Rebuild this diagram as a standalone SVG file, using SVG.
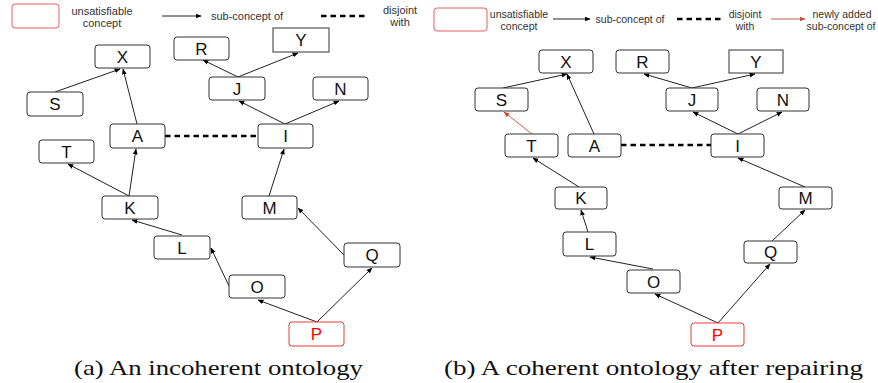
<svg xmlns="http://www.w3.org/2000/svg" width="878" height="383" viewBox="0 0 878 383">
<defs>
<marker id="ah" viewBox="0 0 10 10" refX="9" refY="5" markerWidth="6" markerHeight="6" orient="auto" markerUnits="userSpaceOnUse"><path d="M0,1 L10,5 L0,9 z" fill="#000"/></marker>
<marker id="ahr" viewBox="0 0 10 10" refX="9" refY="5" markerWidth="6" markerHeight="6" orient="auto" markerUnits="userSpaceOnUse"><path d="M0,1 L10,5 L0,9 z" fill="#c0503c"/></marker>
<style>
.n rect{fill:#fff;stroke:#333;stroke-width:1}
.n text{font-family:"Liberation Sans",Arial,sans-serif;font-size:17px;text-anchor:middle;fill:#111}
.u rect{stroke:#e83a3a}
.u text{fill:#f00}
.e{stroke:#222;stroke-width:1;fill:none;marker-end:url(#ah)}
.er{stroke:#c0604e;stroke-width:1;fill:none;marker-end:url(#ahr)}
.d{stroke:#000;stroke-width:2.6;stroke-dasharray:5.5 4;fill:none}
.lg{font-family:"Liberation Sans",Arial,sans-serif;font-size:11px;fill:#333;text-anchor:middle}
.cap{font-family:"Liberation Serif","DejaVu Serif",serif;font-size:21px;fill:#111}
</style>
</defs>

<!-- Legend (a) -->
<g id="legend-a">
<rect x="12" y="4" width="47" height="24" rx="3" fill="#fff" stroke="#e86060" stroke-width="1"/>
<text class="lg" x="102" y="15">unsatisfiable</text>
<text class="lg" x="102" y="27">concept</text>
<line x1="162" y1="16" x2="201" y2="16" class="e"/>
<text class="lg" x="247" y="20">sub-concept of</text>
<line x1="321" y1="16" x2="368" y2="16" class="d" stroke-width="3" stroke-dasharray="6 5"/>
<text class="lg" x="400" y="14">disjoint</text>
<text class="lg" x="400" y="26">with</text>
</g>

<!-- Legend (b) -->
<g id="legend-b">
<rect x="434" y="8" width="53" height="23" rx="3" fill="#fff" stroke="#e86060" stroke-width="1"/>
<text class="lg" x="519" y="18" style="font-size:10.5px">unsatisfiable</text>
<text class="lg" x="519" y="30" style="font-size:10.5px">concept</text>
<line x1="553" y1="19" x2="590" y2="19" class="e"/>
<text class="lg" x="630" y="23" style="font-size:10.5px">sub-concept of</text>
<line x1="677" y1="19" x2="723" y2="19" class="d" stroke-width="3" stroke-dasharray="6 5"/>
<text class="lg" x="745" y="18" style="font-size:10.5px">disjoint</text>
<text class="lg" x="745" y="30" style="font-size:10.5px">with</text>
<line x1="771" y1="19" x2="805" y2="19" class="er"/>
<text class="lg" x="842" y="18" style="font-size:10.5px">newly added</text>
<text class="lg" x="841" y="30" style="font-size:10.5px">sub-concept of</text>
</g>

<!-- Connectors (a) -->
<g id="edges-a">
<line class="e" x1="55" y1="92" x2="120" y2="69"/>
<line class="e" x1="137" y1="124" x2="123" y2="69"/>
<line class="e" x1="238" y1="77" x2="203" y2="60"/>
<line class="e" x1="238" y1="77" x2="298" y2="53"/>
<line class="e" x1="285" y1="124" x2="239" y2="101"/>
<line class="e" x1="285" y1="124" x2="339" y2="101"/>
<line class="d" x1="165" y1="136" x2="258" y2="136"/>
<line class="e" x1="129" y1="196" x2="68" y2="164"/>
<line class="e" x1="129" y1="196" x2="136" y2="149"/>
<line class="e" x1="269" y1="196" x2="284" y2="149"/>
<line class="e" x1="182" y1="235" x2="132" y2="220"/>
<line class="e" x1="229" y1="286" x2="211" y2="248"/>
<line class="e" x1="344" y1="255" x2="298" y2="208"/>
<line class="e" x1="317" y1="322" x2="258" y2="300"/>
<line class="e" x1="317" y1="322" x2="372" y2="268"/>
</g>

<!-- Nodes (a) -->
<g id="a-X" class="n"><rect x="95" y="45" width="55" height="23" rx="3"/><text x="122.5" y="63">X</text></g>
<g id="a-R" class="n"><rect x="174" y="37" width="55" height="23" rx="3"/><text x="201.5" y="55">R</text></g>
<g id="a-Y" class="n"><rect x="273" y="28" width="56" height="24"/><text x="301" y="46">Y</text></g>
<g id="a-S" class="n"><rect x="27" y="92" width="56" height="24" rx="3"/><text x="55" y="110">S</text></g>
<g id="a-J" class="n"><rect x="209" y="77" width="56" height="23" rx="3"/><text x="237" y="95">J</text></g>
<g id="a-N" class="n"><rect x="313" y="77" width="55" height="23" rx="3"/><text x="340.5" y="95">N</text></g>
<g id="a-A" class="n"><rect x="110" y="124" width="55" height="24" rx="3"/><text x="137.5" y="142">A</text></g>
<g id="a-I" class="n"><rect x="258" y="124" width="55" height="24" rx="3"/><text x="285.5" y="142">I</text></g>
<g id="a-T" class="n"><rect x="39" y="140" width="55" height="23" rx="3"/><text x="66.5" y="158">T</text></g>
<g id="a-K" class="n"><rect x="102" y="196" width="56" height="23" rx="3"/><text x="130" y="214">K</text></g>
<g id="a-M" class="n"><rect x="242" y="196" width="55" height="23" rx="3"/><text x="269.5" y="214">M</text></g>
<g id="a-L" class="n"><rect x="154" y="236" width="56" height="23" rx="3"/><text x="182" y="254">L</text></g>
<g id="a-Q" class="n"><rect x="344" y="243" width="56" height="24" rx="3"/><text x="372" y="261">Q</text></g>
<g id="a-O" class="n"><rect x="229" y="275" width="56" height="23" rx="3"/><text x="257" y="293">O</text></g>
<g id="a-P" class="n u"><rect x="289" y="322" width="55" height="24" rx="3"/><text x="316.5" y="340">P</text></g>

<!-- Connectors (b) -->
<g id="edges-b">
<line class="e" x1="503" y1="88" x2="567" y2="74"/>
<line class="e" x1="594" y1="134" x2="567" y2="74"/>
<line class="e" x1="692" y1="88" x2="644" y2="74"/>
<line class="e" x1="692" y1="88" x2="755" y2="74"/>
<line class="e" x1="738" y1="134" x2="693" y2="112"/>
<line class="e" x1="738" y1="134" x2="782" y2="112"/>
<line class="er" x1="532" y1="134" x2="504" y2="112"/>
<line class="d" x1="621" y1="145" x2="711" y2="145"/>
<line class="e" x1="579" y1="187" x2="533" y2="158"/>
<line class="e" x1="805" y1="187" x2="738" y2="158"/>
<line class="e" x1="588" y1="232" x2="581" y2="210"/>
<line class="e" x1="653" y1="269" x2="590" y2="257"/>
<line class="e" x1="718" y1="323" x2="655" y2="294"/>
<line class="e" x1="718" y1="323" x2="770" y2="264"/>
<line class="e" x1="772" y1="241" x2="805" y2="210"/>
</g>

<!-- Nodes (b) -->
<g id="b-X" class="n"><rect x="539" y="50" width="54" height="23" rx="3"/><text x="566" y="68">X</text></g>
<g id="b-R" class="n"><rect x="616" y="50" width="53" height="23" rx="3"/><text x="642.5" y="68">R</text></g>
<g id="b-Y" class="n"><rect x="729" y="50" width="54" height="23"/><text x="756" y="68">Y</text></g>
<g id="b-S" class="n"><rect x="475" y="88" width="53" height="23" rx="3"/><text x="501.5" y="106">S</text></g>
<g id="b-J" class="n"><rect x="666" y="88" width="52" height="23" rx="3"/><text x="692" y="106">J</text></g>
<g id="b-N" class="n"><rect x="757" y="88" width="52" height="23" rx="3"/><text x="783" y="106">N</text></g>
<g id="b-T" class="n"><rect x="505" y="134" width="53" height="23" rx="3"/><text x="531.5" y="152">T</text></g>
<g id="b-A" class="n"><rect x="568" y="134" width="53" height="23" rx="3"/><text x="594.5" y="152">A</text></g>
<g id="b-I" class="n"><rect x="711" y="134" width="53" height="23" rx="3"/><text x="737.5" y="152">I</text></g>
<g id="b-K" class="n"><rect x="555" y="187" width="52" height="22" rx="3"/><text x="581" y="204">K</text></g>
<g id="b-M" class="n"><rect x="779" y="187" width="53" height="22" rx="3"/><text x="805.5" y="204">M</text></g>
<g id="b-L" class="n"><rect x="563" y="232" width="53" height="24" rx="3"/><text x="589.5" y="250">L</text></g>
<g id="b-Q" class="n"><rect x="744" y="241" width="53" height="22" rx="3"/><text x="770.5" y="258">Q</text></g>
<g id="b-O" class="n"><rect x="627" y="270" width="53" height="23" rx="3"/><text x="653.5" y="288">O</text></g>
<g id="b-P" class="n u"><rect x="691" y="323" width="53" height="23" rx="3"/><text x="717.5" y="341">P</text></g>

<!-- Captions -->
<text class="cap" x="74" y="375" textLength="289" lengthAdjust="spacingAndGlyphs">(a) An incoherent ontology</text>
<text class="cap" x="444" y="375" textLength="419" lengthAdjust="spacingAndGlyphs">(b) A coherent ontology after repairing</text>
</svg>
